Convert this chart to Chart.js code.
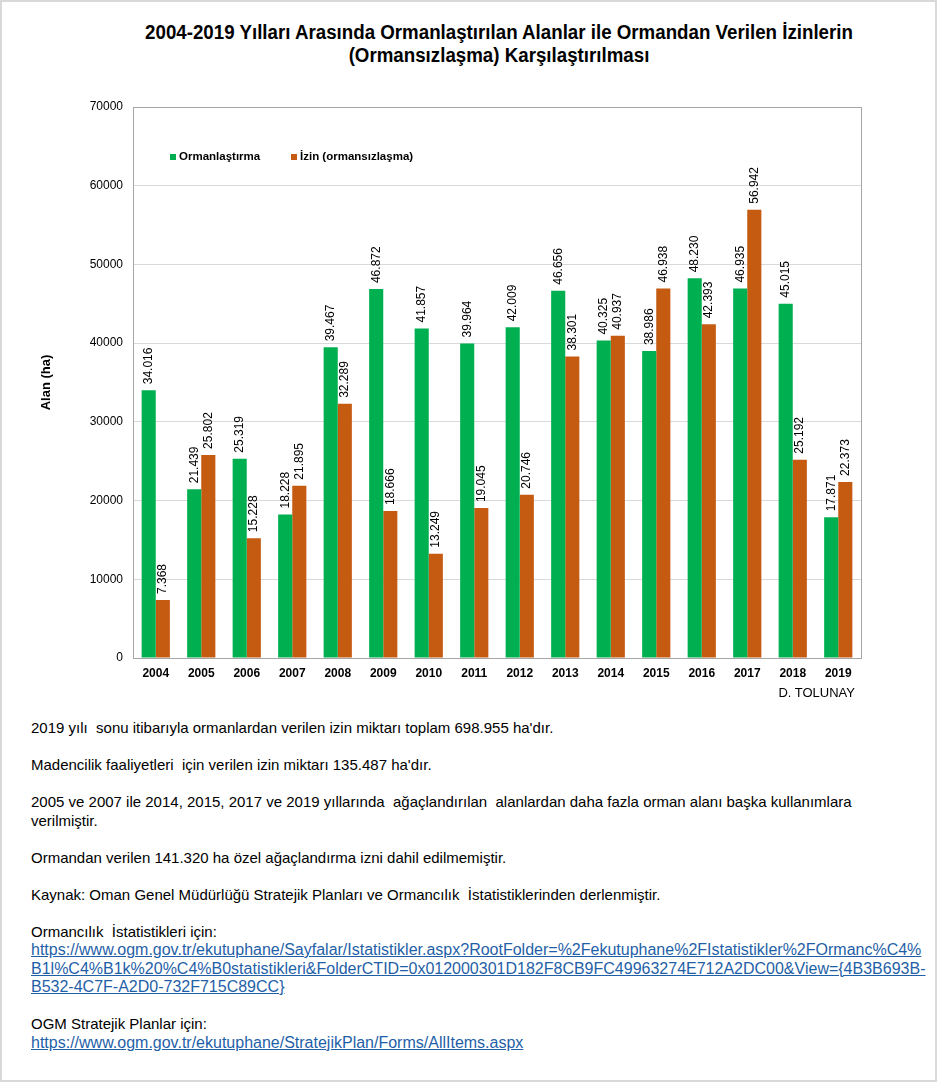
<!doctype html>
<html>
<head>
<meta charset="utf-8">
<title>Ormanlaştırma ve İzinler</title>
<script src="https://cdn.jsdelivr.net/npm/chart.js"></script>
<style>
    body { margin: 0; background: #fff; font-family: Arial, "Liberation Sans", sans-serif; }
    #sayfa { position: relative; width: 937px; height: 1082px; overflow: hidden; }
    #cerceve { position: absolute; left: 0; top: 0; width: 933px; height: 1078px; border: 2px solid #d9d9d9; pointer-events: none; }
    #baslik { position: absolute; left: 100px; width: 798px; top: 21px; text-align: center;
        font-weight: bold; font-size: 20px; line-height: 23px; color: #000;
        transform: scaleX(0.936); transform-origin: 399px 0; }
    #grafik { position: absolute; left: 0; top: 0; }
    #imza { position: absolute; right: 82px; top: 685px; font-size: 13px; color: #000; }
    #notlar { position: absolute; left: 31px; top: 719px; font-size: 15px; line-height: 18.5px; color: #000; white-space: nowrap; }
    #notlar p { margin: 0 0 18.5px 0; }
    #notlar a { color: #1f5fa8; font-size: 16px; }
</style>
</head>
<body>
<div id="sayfa">
    <div id="baslik">2004-2019 Yılları Arasında Ormanlaştırılan Alanlar ile Ormandan Verilen İzinlerin<br>(Ormansızlaşma) Karşılaştırılması</div>
    <canvas id="grafik" width="937" height="700"></canvas>
    <div id="imza">D. TOLUNAY</div>
    <div id="notlar">
        <p>2019 yılı&nbsp; sonu itibarıyla ormanlardan verilen izin miktarı toplam 698.955 ha'dır.</p>
        <p>Madencilik faaliyetleri&nbsp; için verilen izin miktarı 135.487 ha'dır.</p>
        <p>2005 ve 2007 ile 2014, 2015, 2017 ve 2019 yıllarında&nbsp; ağaçlandırılan&nbsp; alanlardan daha fazla orman alanı başka kullanımlara<br>verilmiştir.</p>
        <p>Ormandan verilen 141.320 ha özel ağaçlandırma izni dahil edilmemiştir.</p>
        <p>Kaynak: Oman Genel Müdürlüğü Stratejik Planları ve Ormancılık&nbsp; İstatistiklerinden derlenmiştir.</p>
        <p>Ormancılık&nbsp; İstatistikleri için:<br><a href="#">https://www.ogm.gov.tr/ekutuphane/Sayfalar/Istatistikler.aspx?RootFolder=%2Fekutuphane%2FIstatistikler%2FOrmanc%C4%<br>B1l%C4%B1k%20%C4%B0statistikleri&amp;FolderCTID=0x012000301D182F8CB9FC49963274E712A2DC00&amp;View={4B3B693B-<br>B532-4C7F-A2D0-732F715C89CC}</a></p>
        <p>OGM Stratejik Planlar için:<br><a href="#">https://www.ogm.gov.tr/ekutuphane/StratejikPlan/Forms/AllItems.aspx</a></p>
    </div>
    <div id="cerceve"></div>
</div>

<script>
    // Yıllar
    var yillar = ['2004', '2005', '2006', '2007', '2008', '2009', '2010', '2011',
        '2012', '2013', '2014', '2015', '2016', '2017', '2018', '2019'];
    // Ormanlaştırma (ha)
    var ormanlastirma = [34016, 21439, 25319, 18228, 39467, 46872, 41857, 39964,
        42009, 46656, 40325, 38986, 48230, 46935, 45015, 17871];
    // İzin (ormansızlaşma) (ha)
    var izin = [7368, 25802, 15228, 21895, 32289, 18666, 13249, 19045,
        20746, 38301, 40937, 46938, 42393, 56942, 25192, 22373];
    // Y ekseni
    var yMin = 0, yMax = 70000, yAdim = 10000;

    // 34016 -> "34.016"
    function noktali(v) {
        return String(v).replace(/\B(?=(\d{3})+(?!\d))/g, '.');
    }

    // Çubukların üstüne dikey değer etiketleri
    var degerEtiketleri = {
        id: 'degerEtiketleri',
        afterDatasetsDraw: function (chart) {
            var ctx = chart.ctx;
            ctx.save();
            ctx.font = '12px Arial, "Liberation Sans", sans-serif';
            ctx.fillStyle = '#000';
            ctx.textAlign = 'left';
            ctx.textBaseline = 'middle';
            chart.data.datasets.forEach(function (ds, i) {
                chart.getDatasetMeta(i).data.forEach(function (bar, j) {
                    ctx.save();
                    ctx.translate(bar.x, bar.y - 6);
                    ctx.rotate(-Math.PI / 2);
                    ctx.fillText(noktali(ds.data[j]), 0, 0);
                    ctx.restore();
                });
            });
            ctx.restore();
        }
    };

    // Çizim alanı çerçevesi ve grafik içindeki gösterge
    var cerceveVeGosterge = {
        id: 'cerceveVeGosterge',
        beforeDatasetsDraw: function (chart) {
            var a = chart.chartArea, ctx = chart.ctx;
            ctx.save();
            ctx.strokeStyle = '#a6a6a6';
            ctx.lineWidth = 1;
            ctx.strokeRect(Math.round(a.left) + 0.5, Math.round(a.top) + 0.5,
                Math.round(a.right - a.left), Math.round(a.bottom - a.top));
            ctx.restore();
        },
        afterDraw: function (chart) {
            var ctx = chart.ctx, a = chart.chartArea;
            var konumlar = [a.left + 37, a.left + 158];
            ctx.save();
            ctx.font = 'bold 11.5px Arial, "Liberation Sans", sans-serif';
            ctx.textBaseline = 'middle';
            ctx.textAlign = 'left';
            chart.data.datasets.forEach(function (ds, i) {
                var x = konumlar[i], y = 157;
                ctx.fillStyle = ds.backgroundColor;
                ctx.fillRect(x, y - 3, 6, 6);
                ctx.fillStyle = '#000';
                ctx.fillText(ds.label, x + 9, y);
            });
            ctx.restore();
        }
    };

    var grafik = new Chart(document.getElementById('grafik').getContext('2d'), {
        type: 'bar',
        data: {
            labels: yillar,
            datasets: [
                {
                    label: 'Ormanlaştırma',
                    backgroundColor: '#00b050',
                    data: ormanlastirma
                },
                {
                    label: 'İzin (ormansızlaşma)',
                    backgroundColor: '#c55a11',
                    data: izin
                }
            ]
        },
        options: {
            responsive: false,
            animation: false,
            layout: {
                padding: { left: 20, right: 76, top: 107, bottom: 0 }
            },
            datasets: {
                bar: { categoryPercentage: 0.62, barPercentage: 1 }
            },
            plugins: {
                legend: { display: false },
                tooltip: { enabled: false }
            },
            scales: {
                x: {
                    grid: { display: false, drawTicks: false },
                    border: { display: false },
                    ticks: {
                        color: '#000',
                        padding: 8,
                        maxRotation: 0,
                        font: { family: 'Arial, "Liberation Sans", sans-serif', size: 12, weight: 'bold' }
                    },
                    afterFit: function (scale) { scale.height = 42; }
                },
                y: {
                    min: yMin,
                    max: yMax,
                    grid: { color: '#d9d9d9', drawTicks: false },
                    border: { display: false },
                    ticks: {
                        stepSize: yAdim,
                        color: '#000',
                        padding: 10,
                        callback: function (v) { return String(v); },
                        font: { family: 'Arial, "Liberation Sans", sans-serif', size: 12 }
                    },
                    title: {
                        display: true,
                        text: 'Alan (ha)',
                        color: '#000',
                        padding: { top: 19, bottom: 0 },
                        font: { family: 'Arial, "Liberation Sans", sans-serif', size: 13, weight: 'bold' }
                    },
                    afterFit: function (scale) { scale.width = 113; }
                }
            }
        },
        plugins: [degerEtiketleri, cerceveVeGosterge]
    });
</script>
</body>
</html>
